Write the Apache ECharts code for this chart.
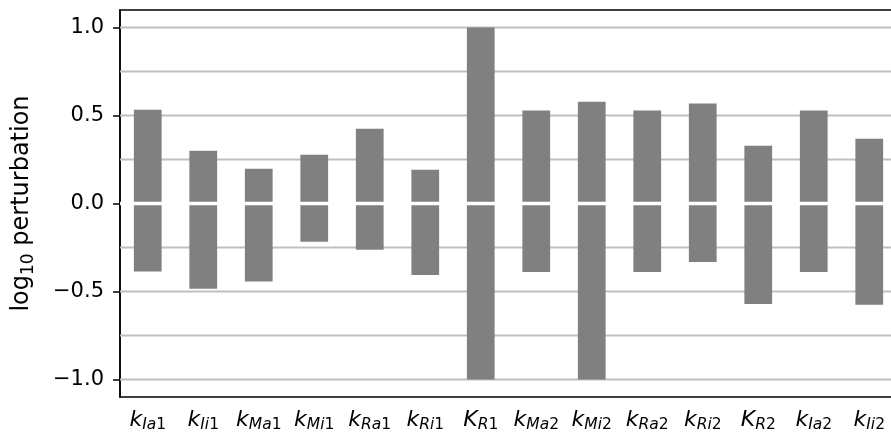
<!DOCTYPE html>
<html>
<head>
<meta charset="utf-8">
<script src="https://cdn.jsdelivr.net/npm/echarts@6/dist/echarts.min.js"></script>
<style>
  html, body { margin: 0; padding: 0; background: #fff; }
  #chart { width: 891px; height: 441px; }
</style>
</head>
<body>
<div id="chart"></div>
<script>
// Parameter names: symbol, subscript letters, subscript index
const symbols    = ['k', 'k', 'k', 'k', 'k', 'k', 'K', 'k', 'k', 'k', 'k', 'K', 'k', 'k'];
const subLetters = ['Ia', 'Ii', 'Ma', 'Mi', 'Ra', 'Ri', 'R', 'Ma', 'Mi', 'Ra', 'Ri', 'R', 'Ia', 'Ii'];
const subIndex   = ['1', '1', '1', '1', '1', '1', '1', '2', '2', '2', '2', '2', '2', '2'];
const categories = symbols.map((s, i) => s + subLetters[i] + subIndex[i]);

// log10 perturbation range per parameter
const upperValues = [0.533, 0.300, 0.197, 0.277, 0.425, 0.192, 1.0, 0.528, 0.579, 0.528, 0.568, 0.328, 0.528, 0.368];
const lowerValues = [-0.387, -0.484, -0.444, -0.218, -0.263, -0.406, -1.0, -0.389, -1.0, -0.389, -0.332, -0.571, -0.389, -0.576];

// axis ticks and horizontal guide lines
const yTicks = [-1.0, -0.5, 0.0, 0.5, 1.0];
const gridValues = [-1.0, -0.75, -0.5, -0.25, 0.25, 0.5, 0.75, 1.0];
const zeroValue = [0.0];

const FONT = 'DejaVu Sans';
const FS = 21;      // tick labels
const MAIN = 22;    // parameter symbol
const SUB = 15.5;   // parameter subscript
const NAME = 24;    // axis title

function fmtTick(v) {
  const s = Math.abs(v).toFixed(1);
  return v < 0 ? '\u2212' + s : s;
}

// full-width horizontal rule at a data value
function hRule(color, width) {
  return function (params, api) {
    const cs = params.coordSys;
    const y = api.coord([0, api.value(1)])[1];
    return {
      type: 'line',
      shape: { x1: cs.x, y1: y, x2: cs.x + cs.width, y2: y },
      style: { stroke: color, lineWidth: width },
      silent: true
    };
  };
}

const chart = echarts.init(document.getElementById('chart'), null, { renderer: 'canvas' });

chart.setOption({
  animation: false,
  backgroundColor: '#ffffff',
  grid: {
    left: 120, top: 10, right: -6, bottom: 44,
    show: true, borderColor: '#000', borderWidth: 1.5,
    backgroundColor: 'transparent',
    containLabel: false, outerBoundsMode: 'none'
  },
  xAxis: {
    type: 'category',
    data: categories,
    boundaryGap: true,
    axisLine: { lineStyle: { color: '#000', width: 1.5 } },
    axisTick: { alignWithLabel: true, length: 7, lineStyle: { color: '#000', width: 1.5 } },
    splitLine: { show: false },
    axisLabel: {
      interval: 0,
      margin: 8,
      color: '#000',
      fontFamily: FONT,
      formatter: (val, idx) => '{m|' + symbols[idx] + '}{s|' + subLetters[idx] + '}{n|' + subIndex[idx] + '}',
      rich: {
        m: { fontFamily: FONT, fontStyle: 'italic', fontSize: MAIN, color: '#000', verticalAlign: 'bottom', lineHeight: 28, padding: [0, 0, 2, 0] },
        s: { fontFamily: FONT, fontStyle: 'italic', fontSize: SUB, color: '#000', verticalAlign: 'bottom', lineHeight: 28 },
        n: { fontFamily: FONT, fontSize: SUB, color: '#000', verticalAlign: 'bottom', lineHeight: 28 }
      }
    }
  },
  yAxis: {
    type: 'value',
    min: -1.1,
    max: 1.1,
    name: '{a|log}{b|10}{a| perturbation}',
    nameLocation: 'middle',
    nameGap: 86,
    nameRotate: 90,
    nameTextStyle: {
      rich: {
        a: { fontFamily: FONT, fontSize: NAME, color: '#000', verticalAlign: 'bottom', lineHeight: 30 },
        b: { fontFamily: FONT, fontSize: 17, color: '#000', verticalAlign: 'bottom', lineHeight: 30, padding: [0, 0, -3, 0] }
      }
    },
    axisLine: { show: true, lineStyle: { color: '#000', width: 1.5 } },
    axisTick: { show: true, length: 7, lineStyle: { color: '#000', width: 1.5 }, customValues: yTicks },
    axisLabel: {
      customValues: yTicks,
      margin: 16,
      color: '#000',
      fontFamily: FONT,
      fontSize: FS,
      formatter: fmtTick
    },
    splitLine: { show: false }
  },
  series: [
    {
      // horizontal guide lines behind the bars
      name: 'guides',
      type: 'custom',
      data: gridValues.map(v => [0, v]),
      encode: { x: 0, y: 1 },
      renderItem: hRule('#c0c0c0', 2),
      clip: false,
      silent: true,
      z: 1
    },
    {
      name: 'upper',
      type: 'bar',
      data: upperValues,
      barWidth: '50%',
      barGap: '-100%',
      z: 2,
      itemStyle: { color: '#808080' }
    },
    {
      name: 'lower',
      type: 'bar',
      data: lowerValues,
      barWidth: '50%',
      barGap: '-100%',
      z: 2,
      itemStyle: { color: '#808080' }
    },
    {
      // white separator at zero, over the bars
      name: 'zero',
      type: 'custom',
      data: zeroValue.map(v => [0, v]),
      encode: { x: 0, y: 1 },
      renderItem: hRule('#ffffff', 3.5),
      clip: false,
      silent: true,
      z: 3
    }
  ]
});
</script>
</body>
</html>
